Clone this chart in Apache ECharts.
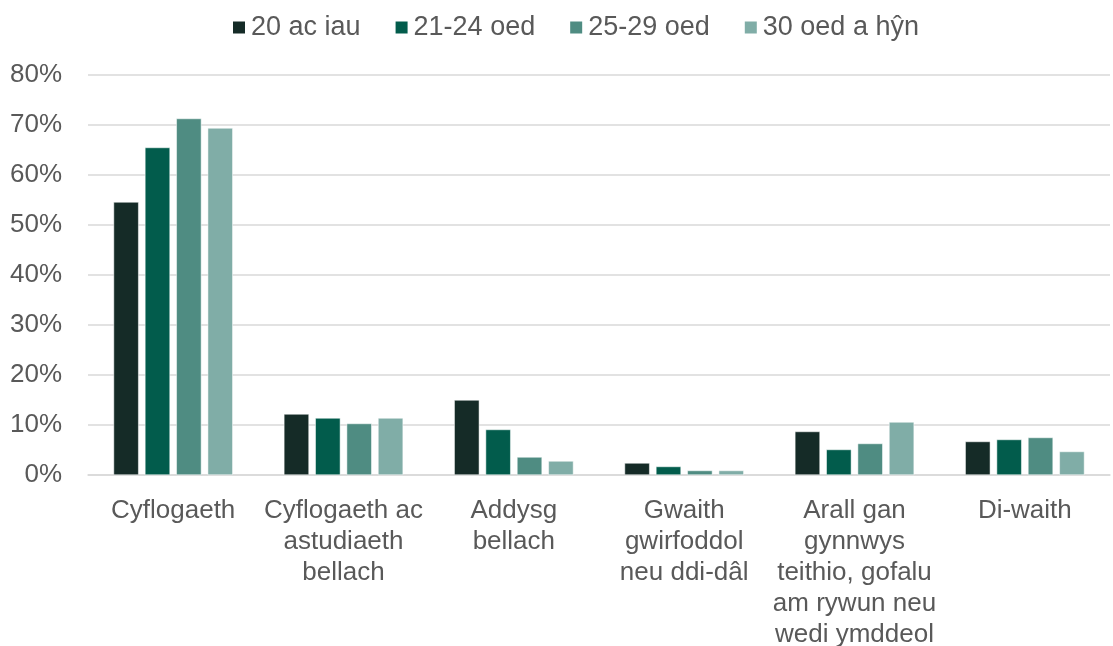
<!DOCTYPE html>
<html>
<head>
<meta charset="utf-8">
<script src="https://cdn.jsdelivr.net/npm/echarts@6/dist/echarts.min.js"></script>
<style>
  html, body { margin: 0; padding: 0; background: #fff; }
  #chart { width: 1113px; height: 646px; }
</style>
</head>
<body>
<div id="chart"></div>
<script>
const categories = [
  'Cyflogaeth',
  'Cyflogaeth ac\nastudiaeth\nbellach',
  'Addysg\nbellach',
  'Gwaith\ngwirfoddol\nneu ddi-dâl',
  'Arall gan\ngynnwys\nteithio, gofalu\nam rywun neu\nwedi ymddeol',
  'Di-waith'
]
const seriesNames = ['20 ac iau', '21-24 oed', '25-29 oed', '30 oed a hŷn']
const under20 = [54.6, 12.2, 15.0, 2.4, 8.7, 6.7]
const age21to24 = [65.5, 11.4, 9.1, 1.7, 5.1, 7.1]
const age25to29 = [71.3, 10.3, 3.6, 0.9, 6.3, 7.5]
const over30 = [69.4, 11.4, 2.8, 0.9, 10.6, 4.7]
const yTicks = [0, 10, 20, 30, 40, 50, 60, 70, 80]

const colors = ['#152b27', '#025c4c', '#4f8c82', '#80ada7']
const values = [under20, age21to24, age25to29, over30]
const font = 'Liberation Sans, Arial, sans-serif'

const chart = echarts.init(document.getElementById('chart'))
chart.setOption({
  animation: false,
  color: colors,
  legend: {
    top: 9,
    left: 226,
    icon: 'rect',
    itemWidth: 14,
    itemHeight: 14,
    itemGap: 33,
    textStyle: { fontFamily: font, fontSize: 27, color: '#595959' },
    data: seriesNames
  },
  grid: { left: 88, right: 3, top: 75, bottom: 171, outerBoundsMode: 'none' },
  xAxis: {
    type: 'category',
    data: categories,
    axisTick: { show: false },
    axisLine: { lineStyle: { color: '#d9d9d9', width: 1.5 } },
    axisLabel: {
      interval: 0,
      margin: 20,
      fontFamily: font,
      fontSize: 26,
      lineHeight: 31,
      color: '#595959'
    }
  },
  yAxis: {
    type: 'value',
    min: yTicks[0],
    max: yTicks[yTicks.length - 1],
    interval: 10,
    axisLine: { show: false },
    axisTick: { show: false },
    splitLine: { lineStyle: { color: '#d9d9d9', width: 1.5 } },
    axisLabel: {
      margin: 26,
      fontFamily: font,
      fontSize: 26,
      color: '#595959',
      formatter: v => v + '%'
    }
  },
  series: seriesNames.map((name, i) => ({
    name: name,
    type: 'bar',
    data: values[i],
    barGap: '25%',
    barCategoryGap: '30%',
    itemStyle: { color: colors[i], borderColor: '#ffffff', borderWidth: 0.5 }
  }))
})
</script>
</body>
</html>
